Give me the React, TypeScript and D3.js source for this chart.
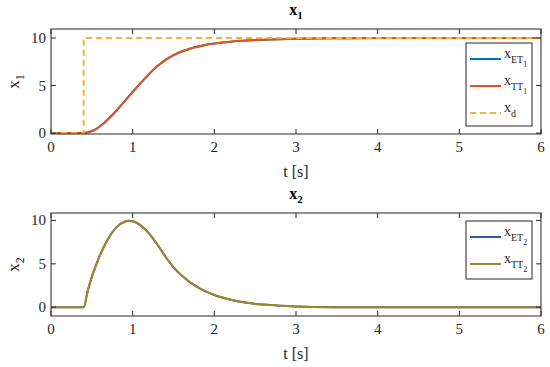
import React from "react";
import * as d3 from "d3";
import { useEffect, useRef } from "react";

// time samples (s) and values
const time = [0, 0.4, 0.45, 0.5, 0.55, 0.6, 0.7, 0.8, 0.9, 0.95, 1.0, 1.1, 1.2, 1.3, 1.4, 1.5, 1.6, 1.7, 1.8, 1.9, 2.0, 2.2, 2.4, 2.6, 2.8, 3.0, 3.5, 4.0, 5.0, 6.0];
const x1 = [0, 0, 0.05, 0.2, 0.42, 0.72, 1.45, 2.35, 3.33, 3.83, 4.32, 5.28, 6.2, 7.02, 7.68, 8.2, 8.58, 8.87, 9.1, 9.3, 9.43, 9.62, 9.74, 9.82, 9.88, 9.92, 9.97, 9.99, 10, 10];
const x2 = [0, 0, 1.9, 3.5, 4.8, 6.0, 7.9, 9.2, 9.85, 9.95, 9.9, 9.4, 8.5, 7.25, 5.85, 4.6, 3.65, 2.9, 2.3, 1.8, 1.42, 0.88, 0.52, 0.31, 0.18, 0.1, 0.02, 0, 0, 0];
const xdTime = [0, 0.4, 0.4, 6];
const xd = [0, 0, 10, 10];
const xTicks = [0, 1, 2, 3, 4, 5, 6];
const yTicks = [0, 5, 10];

function App() {
  const svgRef = useRef<SVGSVGElement>(null);

  useEffect(() => {
    const w = 550;
    const h = 367;
    const svg = d3.select(svgRef.current).attr("width", w).attr("height", h);
    svg.selectAll("*").remove();
    const font = "'Liberation Serif', serif";
    const axisCol = "#262626";

    const panel = (top, bottom, yDomain, sub, lines, legend, legTop, legBottom) => {
      const x = d3.scaleLinear().domain([0, 6]).range([51, 541]);
      const y = d3.scaleLinear().domain(yDomain).range([bottom, top]);
      const g = svg.append("g");

      // curves
      lines.forEach((l) => {
        const path = d3
          .line()
          .x((d, i) => x(l.t[i]))
          .y((d) => y(d))
          .curve(l.dash ? d3.curveLinear : d3.curveMonotoneX);
        g.append("path")
          .attr("d", path(l.v))
          .attr("fill", "none")
          .attr("stroke", l.color)
          .attr("stroke-width", 2)
          .attr("stroke-dasharray", l.dash ? "6,4" : null);
      });

      // box
      g.append("rect")
        .attr("x", 51)
        .attr("y", top)
        .attr("width", 490)
        .attr("height", bottom - top)
        .attr("fill", "none")
        .attr("stroke", axisCol)
        .attr("stroke-width", 1);

      // ticks (inward, all sides)
      xTicks.forEach((t) => {
        g.append("line").attr("x1", x(t)).attr("x2", x(t)).attr("y1", bottom).attr("y2", bottom - 5).attr("stroke", axisCol);
        g.append("line").attr("x1", x(t)).attr("x2", x(t)).attr("y1", top).attr("y2", top + 5).attr("stroke", axisCol);
        g.append("text")
          .attr("x", x(t))
          .attr("y", bottom + 18)
          .attr("text-anchor", "middle")
          .attr("font-family", font)
          .attr("font-size", 15)
          .attr("fill", axisCol)
          .text(t);
      });
      yTicks.forEach((t) => {
        g.append("line").attr("x1", 51).attr("x2", 56).attr("y1", y(t)).attr("y2", y(t)).attr("stroke", axisCol);
        g.append("line").attr("x1", 541).attr("x2", 536).attr("y1", y(t)).attr("y2", y(t)).attr("stroke", axisCol);
        g.append("text")
          .attr("x", 46)
          .attr("y", y(t) + 5)
          .attr("text-anchor", "end")
          .attr("font-family", font)
          .attr("font-size", 15)
          .attr("fill", axisCol)
          .text(t);
      });

      // x label
      g.append("text")
        .attr("x", 296)
        .attr("y", bottom + 43)
        .attr("text-anchor", "middle")
        .attr("font-family", font)
        .attr("font-size", 16)
        .attr("fill", axisCol)
        .text("t [s]");

      // y label
      const yl = g
        .append("text")
        .attr("transform", `translate(19, ${(top + bottom) / 2}) rotate(-90)`)
        .attr("text-anchor", "middle")
        .attr("font-family", font)
        .attr("font-size", 17)
        .attr("fill", axisCol);
      yl.append("tspan").text("x");
      yl.append("tspan").attr("font-size", 12).attr("dy", 5).text(sub);

      // title
      const tt = g
        .append("text")
        .attr("x", 296)
        .attr("y", top - 14)
        .attr("text-anchor", "middle")
        .attr("font-family", font)
        .attr("font-weight", "bold")
        .attr("font-size", 16)
        .attr("fill", "#000");
      tt.append("tspan").text("x");
      tt.append("tspan").attr("font-size", 11).attr("dy", 4).text(sub);

      // legend
      g.append("rect")
        .attr("x", 466)
        .attr("y", legTop)
        .attr("width", 66)
        .attr("height", legBottom - legTop)
        .attr("fill", "#fff")
        .attr("stroke", axisCol)
        .attr("stroke-width", 1);
      legend.forEach((e, i) => {
        const ly = legTop + 16 + i * 27;
        g.append("line")
          .attr("x1", 470)
          .attr("x2", 501)
          .attr("y1", ly)
          .attr("y2", ly)
          .attr("stroke", e.color)
          .attr("stroke-width", 2)
          .attr("stroke-dasharray", e.dash ? "6,4" : null);
        const lt = g
          .append("text")
          .attr("x", 504)
          .attr("y", ly - 1)
          .attr("font-family", font)
          .attr("font-size", 14)
          .attr("fill", axisCol);
        lt.append("tspan").text("x");
        lt.append("tspan").attr("font-size", 10).attr("dy", 5).text(e.sub);
        if (e.sub2) lt.append("tspan").attr("font-size", 8).attr("dy", 4).text(e.sub2);
      });
    };

    panel(
      29,
      134,
      [-0.1, 10.95],
      "1",
      [
        { t: time, v: x1, color: "#0072BD" },
        { t: time, v: x1, color: "#E4521E" },
        { t: xdTime, v: xd, color: "#F2B13A", dash: true },
      ],
      [
        { color: "#0072BD", sub: "ET", sub2: "1" },
        { color: "#E4521E", sub: "TT", sub2: "1" },
        { color: "#F2B13A", sub: "d", dash: true },
      ],
      43,
      126
    );

    panel(
      213,
      316,
      [-1, 10.85],
      "2",
      [
        { t: time, v: x2, color: "#3355B0" },
        { t: time, v: x2, color: "#A08628" },
      ],
      [
        { color: "#3355B0", sub: "ET", sub2: "2" },
        { color: "#A08628", sub: "TT", sub2: "2" },
      ],
      221,
      279
    );
  }, []);

  return <svg ref={svgRef} style={{ position: "absolute", left: 0, top: 0 }}></svg>;
}

export default App;
